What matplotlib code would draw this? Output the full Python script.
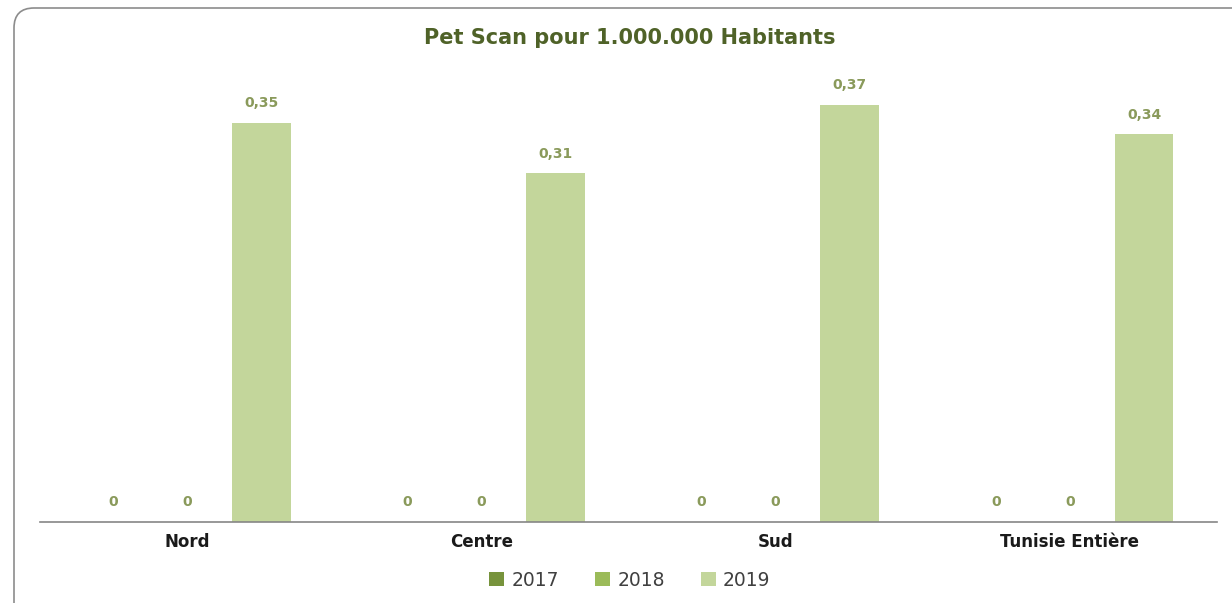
import numpy as np
import matplotlib
matplotlib.use("Agg")
import matplotlib.pyplot as plt
from matplotlib.patches import FancyBboxPatch

# data
regions = ["Nord", "Centre", "Sud", "Tunisie Entière"]
years = ["2017", "2018", "2019"]
v2017 = [0, 0, 0, 0]
v2018 = [0, 0, 0, 0]
v2019 = [0.35, 0.306, 0.366, 0.34]

colors = ["#77933C", "#9BBB59", "#C3D69B"]
label_color = "#8A9A5B"

plt.rcParams['font.family'] = ['DejaVu Sans']

fig = plt.figure(figsize=(12.32, 6.03), dpi=100)

# rounded border of the chart area (inches)
border = FancyBboxPatch((0.14, -1.0), 13.0, 6.03 - 0.08 + 1.0,
                        boxstyle="round,pad=0,rounding_size=0.2",
                        transform=fig.dpi_scale_trans, fill=False,
                        edgecolor="#8C8C8C", linewidth=1.2)
fig.patches.append(border)

ax = fig.add_axes([40 / 1232, 1 - 522 / 603, (1217 - 40) / 1232, (522 - 66) / 603])

x = np.arange(len(regions))
w = 0.2
off = 0.252
for i, (vals, c, yr) in enumerate(zip([v2017, v2018, v2019], colors, years)):
    bars = ax.bar(x + (i - 1) * off, vals, width=w, color=c, label=yr)
    for b, v in zip(bars, vals):
        txt = "0" if v == 0 else f"{v:.2f}".replace(".", ",")
        ax.text(b.get_x() + b.get_width() / 2, v + 0.011, txt,
                ha="center", va="bottom", fontsize=10, fontweight="bold",
                color=label_color)

ax.set_xlim(-0.5, 3.5)
ax.set_ylim(0, 0.4)
ax.set_yticks([])
ax.set_xticks(x)
ax.set_xticklabels(regions, fontsize=12, fontweight="bold", color="#1a1a1a")
ax.tick_params(axis="x", length=0, pad=8)
for s in ["top", "right", "left"]:
    ax.spines[s].set_visible(False)
ax.spines["bottom"].set_color("#868686")
ax.spines["bottom"].set_linewidth(1.2)

fig.text(630 / 1232, 1 - 38 / 603, "Pet Scan pour 1.000.000 Habitants",
         ha="center", va="center", fontsize=15, fontweight="bold", color="#4F6228")

fig.legend(loc="center", bbox_to_anchor=(630 / 1232, 1 - 580 / 603), ncol=3,
           frameon=False, fontsize=13.5, handlelength=0.8, handleheight=0.8,
           handletextpad=0.4, columnspacing=1.9, labelcolor="#404040")

fig.savefig("out.png", dpi=100)
